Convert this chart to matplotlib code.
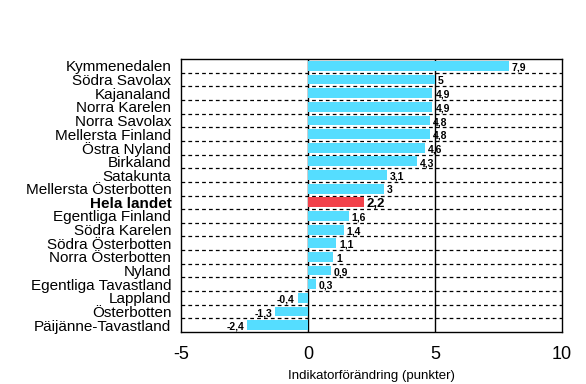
import matplotlib
matplotlib.use('Agg')
import matplotlib.pyplot as plt
import numpy as np

regions = ['Kymmenedalen', 'Södra Savolax', 'Kajanaland', 'Norra Karelen', 'Norra Savolax',
           'Mellersta Finland', 'Östra Nyland', 'Birkaland', 'Satakunta', 'Mellersta Österbotten',
           'Hela landet', 'Egentliga Finland', 'Södra Karelen', 'Södra Österbotten',
           'Norra Österbotten', 'Nyland', 'Egentliga Tavastland', 'Lappland', 'Österbotten',
           'Päijänne-Tavastland']
change = [7.9, 5, 4.9, 4.9, 4.8, 4.8, 4.6, 4.3, 3.1, 3, 2.2, 1.6, 1.4, 1.1, 1, 0.9, 0.3,
          -0.4, -1.3, -2.4]
highlight = 'Hela landet'
xticks = [-5, 0, 5, 10]

plt.rcParams['font.family'] = ['Liberation Sans', 'DejaVu Sans']

fig = plt.figure(figsize=(5.86, 3.84), dpi=100)
ax = fig.add_axes([181 / 586, 1 - 332 / 384, (562 - 181) / 586, (332 - 59) / 384])

n = len(regions)
y = np.arange(n)
colors = ['#F2414A' if r == highlight else '#55DDFF' for r in regions]
ax.barh(y, change, height=0.72, color=colors, zorder=3)

ax.set_ylim(n - 0.5, -0.5)
ax.set_xlim(-5, 10)

# dashed separators between rows
for k in range(1, n):
    ax.axhline(k - 0.5, color='black', linestyle=(0, (3, 2.5)), linewidth=0.9, zorder=1)
for xv in [0, 5]:
    ax.axvline(xv, color='black', linewidth=1.0, zorder=2)

ax.set_yticks(y)
ax.set_yticklabels(regions, fontsize=11)
for lbl in ax.get_yticklabels():
    if lbl.get_text() == highlight:
        lbl.set_fontweight('bold')
ax.tick_params(axis='y', length=0, pad=7)
ax.set_xticks(xticks)
ax.set_xticklabels([str(t) for t in xticks], fontsize=13)
ax.tick_params(axis='x', length=0, pad=10)
ax.set_xlabel('Indikatorförändring (punkter)', fontsize=9.5, labelpad=5)

for i, v in enumerate(change):
    txt = ('%g' % v).replace('.', ',')
    big = regions[i] == highlight
    if v >= 0:
        ax.text(v + 0.12, i + 0.12, txt, ha='left', va='center', fontsize=9.5 if big else 7.5,
                fontweight='bold', family=['Liberation Sans Narrow', 'Liberation Sans'], zorder=4)
    else:
        ax.text(v - 0.12, i + 0.12, txt, ha='right', va='center', fontsize=7.5,
                fontweight='bold', family=['Liberation Sans Narrow', 'Liberation Sans'], zorder=4)

for s in ax.spines.values():
    s.set_linewidth(1.0)

fig.savefig('out.png', dpi=100)
